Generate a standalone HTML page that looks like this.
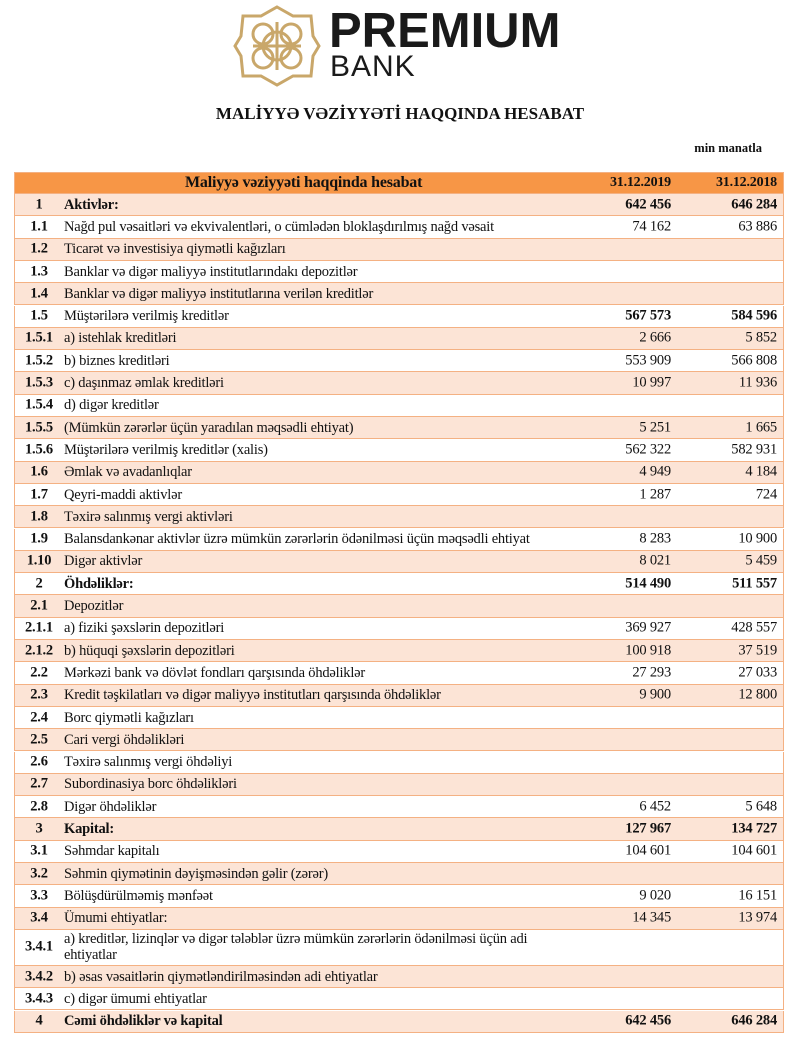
<!DOCTYPE html>
<html><head><meta charset="utf-8"><style>
body{margin:0;width:800px;height:1058px;background:#fff;position:relative;font-family:"Liberation Serif",serif;color:#111;overflow:hidden}
.r{position:absolute;left:14px;width:770px;box-sizing:border-box;border-bottom:1.5px solid #f4b183;border-left:1.5px solid #f4b183;border-right:1.5px solid #f4b183;font-size:14.5px;letter-spacing:-0.2px}
.r span{position:absolute;top:50%;transform:translateY(-50%)}
.n{left:0;width:48px;text-align:center;font-weight:bold}
.t{left:49px;line-height:16px}
.a{right:112px;text-align:right}
.b{right:6px;text-align:right}
.p{background:#fce4d6}.w{background:#fff}
</style></head><body>
<svg style="position:absolute;left:233px;top:4px" width="88" height="84" viewBox="0 0 88 84">
<g fill="none" stroke="#c9a76a" stroke-width="3">
<path d="M44 3 L60 12 L78 12 L80 32 L86 42 L80 52 L78 72 L60 72 L44 81 L28 72 L10 72 L8 52 L2 42 L8 32 L10 12 L28 12 Z"/>
<circle cx="30" cy="30" r="10"/><circle cx="58" cy="30" r="10"/><circle cx="30" cy="54" r="10"/><circle cx="58" cy="54" r="10"/>
<circle cx="44" cy="42" r="14"/><path d="M20 42 H68 M44 18 V66"/>
</g></svg>
<div style="position:absolute;left:329px;top:3px;font-family:'Liberation Sans',sans-serif;font-weight:bold;font-size:49px;color:#1a1a1a">PREMIUM</div>
<div style="position:absolute;left:330px;top:50px;font-family:'Liberation Sans',sans-serif;font-size:30px;letter-spacing:1px;color:#1a1a1a">BANK</div>
<div style="position:absolute;left:0;width:800px;top:104px;text-align:center;font-weight:bold;font-size:17px">MALİYYƏ VƏZİYYƏTİ HAQQINDA HESABAT</div>
<div style="position:absolute;right:38px;top:141px;font-weight:bold;font-size:12.5px">min manatla</div>
<div class="r" style="top:172px;height:22px;background:#f79646;border-top:1.5px solid #f4b183;font-weight:bold;font-size:16px">
<span style="left:170px">Maliyyə vəziyyəti haqqinda hesabat</span><span class="a" style="font-size:14px">31.12.2019</span><span class="b" style="font-size:14px">31.12.2018</span></div>
<div id="rows"></div>
<script>
var d=[["1","Aktivlər:","642 456","646 284",1],["1.1","Nağd pul vəsaitləri və  ekvivalentləri, o cümlədən bloklaşdırılmış nağd vəsait","74 162","63 886"],["1.2","Ticarət və investisiya qiymətli kağızları"],["1.3","Banklar və digər maliyyə institutlarındakı depozitlər"],["1.4","Banklar və digər maliyyə institutlarına verilən kreditlər"],["1.5","Müştərilərə verilmiş kreditlər","567 573","584 596",2],["1.5.1","a) istehlak kreditləri","2 666","5 852"],["1.5.2","b) biznes kreditləri","553 909","566 808"],["1.5.3","c) daşınmaz əmlak kreditləri","10 997","11 936"],["1.5.4","d) digər kreditlər"],["1.5.5","(Mümkün zərərlər üçün yaradılan məqsədli ehtiyat)","5 251","1 665"],["1.5.6","Müştərilərə verilmiş kreditlər (xalis)","562 322","582 931"],["1.6","Əmlak və avadanlıqlar","4 949","4 184"],["1.7","Qeyri-maddi aktivlər","1 287","724"],["1.8","Təxirə salınmış vergi aktivləri"],["1.9","Balansdankənar aktivlər üzrə mümkün zərərlərin ödənilməsi üçün məqsədli ehtiyat","8 283","10 900"],["1.10","Digər aktivlər","8 021","5 459"],["2","Öhdəliklər:","514 490","511 557",1],["2.1","Depozitlər"],["2.1.1","a) fiziki şəxslərin depozitləri","369 927","428 557"],["2.1.2","b) hüquqi şəxslərin depozitləri","100 918","37 519"],["2.2","Mərkəzi bank və dövlət fondları qarşısında öhdəliklər","27 293","27 033"],["2.3","Kredit təşkilatları və digər maliyyə institutları qarşısında öhdəliklər","9 900","12 800"],["2.4","Borc qiymətli kağızları"],["2.5","Cari vergi öhdəlikləri"],["2.6","Təxirə salınmış vergi öhdəliyi"],["2.7","Subordinasiya borc öhdəlikləri"],["2.8","Digər öhdəliklər","6 452","5 648"],["3","Kapital:","127 967","134 727",1],["3.1","Səhmdar kapitalı","104 601","104 601"],["3.2","Səhmin qiymətinin dəyişməsindən gəlir (zərər)"],["3.3","Bölüşdürülməmiş mənfəət","9 020","16 151"],["3.4","Ümumi ehtiyatlar:","14 345","13 974"],["3.4.1","a) kreditlər, lizinqlər və digər tələblər üzrə mümkün zərərlərin ödənilməsi üçün adi<br>ehtiyatlar"],["3.4.2","b) əsas vəsaitlərin qiymətləndirilməsindən adi ehtiyatlar"],["3.4.3","c) digər ümumi ehtiyatlar"],["4","Cəmi öhdəliklər və kapital","642 456","646 284",1]];
var h="",y=194;
d.forEach(function(r,i){var ht=r[0]=="3.4.1"?36:22.3;
var bt=r[4]==1?"font-weight:bold;":"";var bn=r[4]?"font-weight:bold;":"";
h+='<div class="r '+(i%2?'w':'p')+'" style="top:'+y+'px;height:'+ht+'px"><span class="n">'+r[0]+'</span><span class="t" style="'+bt+'">'+r[1]+'</span>'+(r[2]?'<span class="a" style="'+bn+'">'+r[2]+'</span><span class="b" style="'+bn+'">'+r[3]+'</span>':'')+'</div>';y+=ht;});
document.getElementById("rows").innerHTML=h;
</script>
</body></html>
